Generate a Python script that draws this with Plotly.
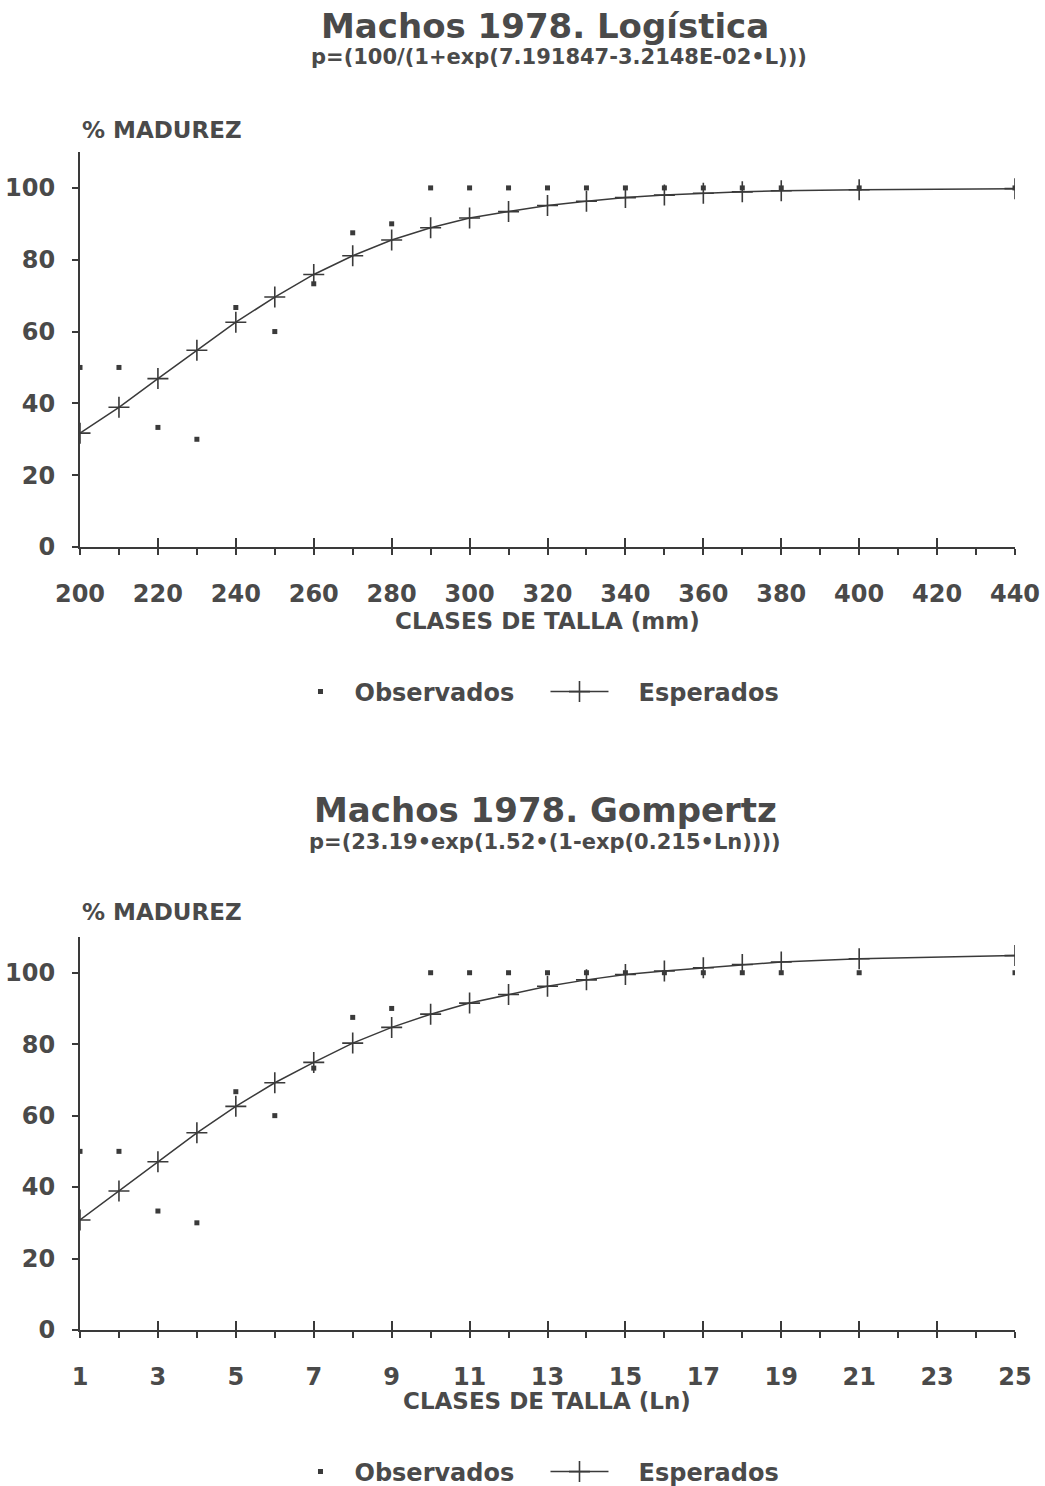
import plotly.graph_objects as go

# ---------------- data ----------------
talla_mm = [200, 210, 220, 230, 240, 250, 260, 270, 280, 290, 300, 310, 320, 330,
            340, 350, 360, 370, 380, 400, 440]
obs_log = [50, 50, 33.3, 30, 66.7, 60, 73.3, 87.5, 90, 100, 100, 100, 100, 100,
           100, 100, 100, 100, 100, 100, 100]
esp_log = [31.7, 38.9, 46.9, 54.8, 62.6, 69.6, 75.9, 81.1, 85.5, 88.9, 91.6, 93.4,
           95.1, 96.3, 97.3, 98.0, 98.5, 98.9, 99.2, 99.5, 99.8]

talla_ln = [1, 2, 3, 4, 5, 6, 7, 8, 9, 10, 11, 12, 13, 14, 15, 16, 17, 18, 19, 21, 25]
obs_gom = [50, 50, 33.3, 30, 66.7, 60, 73.3, 87.5, 90, 100, 100, 100, 100, 100,
           100, 100, 100, 100, 100, 100, 100]
esp_gom = [30.8, 38.9, 47.1, 55.2, 62.6, 69.2, 74.9, 80.3, 84.7, 88.4, 91.5, 93.9,
           96.2, 98.0, 99.5, 100.5, 101.4, 102.3, 103.0, 103.9, 104.8]

y_ticks = [0, 20, 40, 60, 80, 100]
x1_major = [200, 220, 240, 260, 280, 300, 320, 340, 360, 380, 400, 420, 440]
x1_minor = [210, 230, 250, 270, 290, 310, 330, 350, 370, 390, 410, 430]
x2_major = [1, 3, 5, 7, 9, 11, 13, 15, 17, 19, 21, 23, 25]
x2_minor = [2, 4, 6, 8, 10, 12, 14, 16, 18, 20, 22, 24]

title1 = "Machos 1978. Logística"
sub1 = "p=(100/(1+exp(7.191847-3.2148E-02•L)))"
title2 = "Machos 1978. Gompertz"
sub2 = "p=(23.19•exp(1.52•(1-exp(0.215•Ln))))"
ylab = "% MADUREZ"
xlab1 = "CLASES DE TALLA (mm)"
xlab2 = "CLASES DE TALLA (Ln)"
name_obs = "Observados"
name_esp = "\u00a0\u00a0\u00a0Esperados"

# ---------------- style ----------------
W, H = 1045, 1486
TXT = "#4a4a4a"
LINE = "#3a3a3a"
FB = "DejaVu Sans"


def py(px):
    return 1 - px / H


fig = go.Figure()

dot = dict(symbol="square", size=5, color=LINE)
cross = dict(symbol="cross-thin", size=15, color=LINE, line=dict(width=1.6, color=LINE))

fig.add_trace(go.Scatter(x=talla_mm, y=obs_log, mode="markers", marker=dot,
                         name=name_obs, xaxis="x", yaxis="y", legend="legend"))
fig.add_trace(go.Scatter(x=talla_mm, y=esp_log, mode="lines+markers", marker=cross,
                         line=dict(color=LINE, width=1.5), name=name_esp,
                         xaxis="x", yaxis="y", legend="legend"))
fig.add_trace(go.Scatter(x=talla_ln, y=obs_gom, mode="markers", marker=dot,
                         name=name_obs, xaxis="x2", yaxis="y2", legend="legend2"))
fig.add_trace(go.Scatter(x=talla_ln, y=esp_gom, mode="lines+markers", marker=cross,
                         line=dict(color=LINE, width=1.5), name=name_esp,
                         xaxis="x2", yaxis="y2", legend="legend2"))
# dummy traces to register overlay tick axes (upper half of the major ticks)
fig.add_trace(go.Scatter(x=[None], y=[None], xaxis="x3", yaxis="y", showlegend=False, hoverinfo="skip"))
fig.add_trace(go.Scatter(x=[None], y=[None], xaxis="x4", yaxis="y2", showlegend=False, hoverinfo="skip"))

xdom = [80 / W, 1015 / W]
tickfont = dict(family=FB, size=24, color=TXT, weight="bold")

common_x = dict(showgrid=False, zeroline=False, showline=True, linecolor=LINE, linewidth=2,
                ticks="outside", ticklen=6, tickwidth=2, tickcolor=LINE, automargin=False,
                tickfont=tickfont, ticklabelstandoff=18, fixedrange=True)
common_y = dict(showgrid=False, zeroline=False, showline=True, linecolor=LINE, linewidth=2,
                ticks="outside", ticklen=6, tickwidth=2, tickcolor=LINE, automargin=False,
                tickfont=tickfont, ticklabelstandoff=12, range=[0, 110],
                tickvals=y_ticks, fixedrange=True)
overlay = dict(ticks="inside", ticklen=9, tickwidth=1.6, tickcolor=LINE, automargin=False,
               showticklabels=False, showline=False, showgrid=False, zeroline=False,
               fixedrange=True)

leg = dict(orientation="h", xanchor="center", yanchor="middle",
           font=dict(family=FB, size=24, color=TXT, weight="bold"),
           bgcolor="rgba(0,0,0,0)", itemwidth=58, entrywidth=186)

fig.update_layout(
    width=W, height=H, margin=dict(l=0, r=0, t=0, b=0, autoexpand=False),
    paper_bgcolor="white", plot_bgcolor="white",
    xaxis=dict(domain=xdom, anchor="y", range=[200, 440], tickvals=x1_major,
               minor=dict(tickvals=x1_minor, ticks="outside", ticklen=6, tickwidth=1.5, tickcolor=LINE),
               **common_x),
    yaxis=dict(domain=[py(547), py(152)], anchor="x", **common_y),
    xaxis3=dict(overlaying="x", anchor="y", range=[200, 440], tickvals=x1_major[1:], **overlay),
    xaxis2=dict(domain=xdom, anchor="y2", range=[1, 25], tickvals=x2_major,
                minor=dict(tickvals=x2_minor, ticks="outside", ticklen=6, tickwidth=1.5, tickcolor=LINE),
                **common_x),
    yaxis2=dict(domain=[py(1330), py(937)], anchor="x2", **common_y),
    xaxis4=dict(overlaying="x2", anchor="y2", range=[1, 25], tickvals=x2_major[1:], **overlay),
    legend=dict(x=0.522, y=py(692), **leg),
    legend2=dict(x=0.522, y=py(1472), **leg),
    showlegend=True,
)

ann = []


def add_text(text, x, ypx, size, bold=True, xanchor="center"):
    ann.append(dict(text=text, x=x, y=py(ypx), xref="paper", yref="paper",
                    xanchor=xanchor, yanchor="middle", showarrow=False,
                    font=dict(family=FB, size=size, color=TXT,
                              weight="bold" if bold else "normal")))


add_text(title1, 545 / W, 26, 34)
add_text(sub1, 559 / W, 57, 21)
add_text(ylab, 80 / W, 130, 23, xanchor="left")
add_text(xlab1, 547 / W, 621, 23)

add_text(title2, 545 / W, 810, 34)
add_text(sub2, 545 / W, 842, 21)
add_text(ylab, 80 / W, 912, 23, xanchor="left")
add_text(xlab2, 547 / W, 1401, 23)

fig.update_layout(annotations=ann)

fig.write_html("out.html", config={"displayModeBar": False},
               post_script="document.body.style.margin='0';document.body.style.overflow='hidden';")
